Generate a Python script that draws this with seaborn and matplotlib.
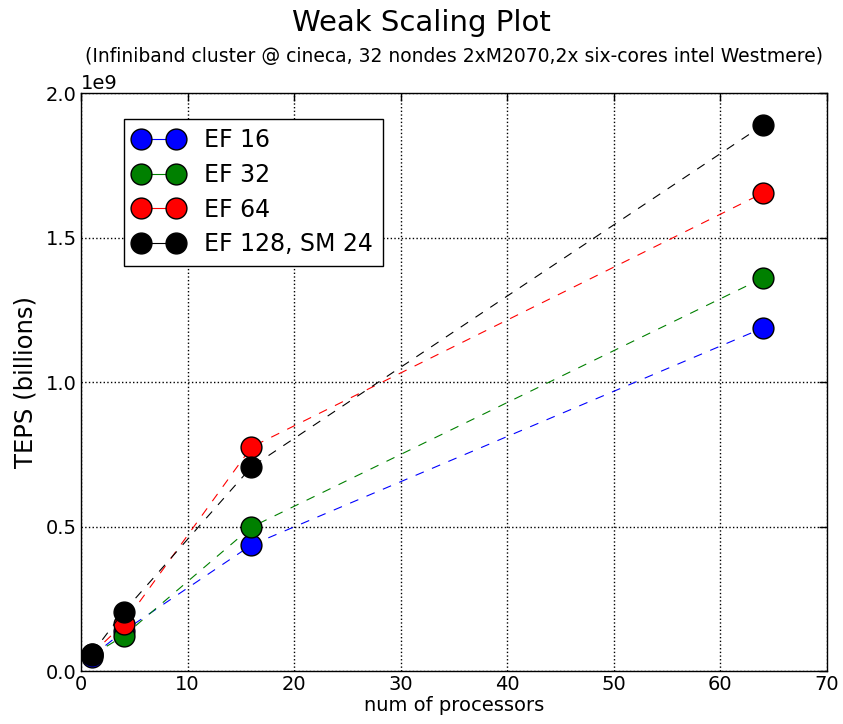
import matplotlib
matplotlib.use("Agg")
import matplotlib.pyplot as plt
import seaborn as sns
import numpy as np

# data (TEPS, raw values)
procs = [1, 4, 16, 64]
ef16 = [0.050e9, 0.138e9, 0.436e9, 1.187e9]
ef32 = [0.054e9, 0.121e9, 0.498e9, 1.360e9]
ef64 = [0.058e9, 0.163e9, 0.775e9, 1.654e9]
ef128 = [0.059e9, 0.205e9, 0.706e9, 1.889e9]

series = [("EF 16", ef16, "blue"),
          ("EF 32", ef32, "green"),
          ("EF 64", ef64, "red"),
          ("EF 128, SM 24", ef128, "black")]

sns.set_style("white", {"xtick.direction": "in", "ytick.direction": "in",
                        "axes.edgecolor": "black"})
plt.rcParams['font.family'] = ['DejaVu Sans']
plt.rcParams.update({"text.color": "black", "axes.labelcolor": "black",
                     "xtick.color": "black", "ytick.color": "black"})

fig = plt.figure(figsize=(8.43, 7.24), dpi=100, facecolor='w')
ax = fig.add_axes([0.096, 0.0732, 0.885, 0.7983])

for name, vals, col in series:
    sns.lineplot(x=procs, y=vals, color=col, marker='o', markersize=15,
                 markeredgecolor='black', markeredgewidth=1,
                 linestyle=(0, (8, 8)), linewidth=0.8, label=name, ax=ax)

ax.set_xlim(0, 70)
ax.set_ylim(0, 2.0e9)
ax.set_yticks(np.arange(0, 2.01e9, 0.5e9))
ax.grid(True, color='black', linestyle=':', linewidth=1)
ax.tick_params(axis='both', labelsize=14, top=True, right=True,
               length=6, width=1, color='black', pad=3)
ax.yaxis.get_offset_text().set_fontsize(14)
for sp in ax.spines.values():
    sp.set_color('black')
    sp.set_linewidth(1)

fig.suptitle("Weak Scaling Plot", fontsize=21, y=0.988)
ax.set_title("(Infiniband cluster @ cineca, 32 nondes 2xM2070,2x six-cores intel Westmere)",
             fontsize=13.5, pad=22)
ax.set_xlabel("num of processors", fontsize=14, labelpad=1)
ax.set_ylabel("TEPS (billions)", fontsize=17.5, labelpad=6)

leg = ax.legend(loc='upper left', bbox_to_anchor=(0.058, 0.955), numpoints=2,
                fontsize=17, frameon=True, fancybox=False, framealpha=1,
                handlelength=2.1, handletextpad=0.9, borderpad=0.4,
                labelspacing=0.45, borderaxespad=0)
leg.get_frame().set_edgecolor('black')
leg.get_frame().set_linewidth(1)
for h in leg.get_lines():
    h.set_linestyle('-')

plt.savefig('out.png', dpi=100)
